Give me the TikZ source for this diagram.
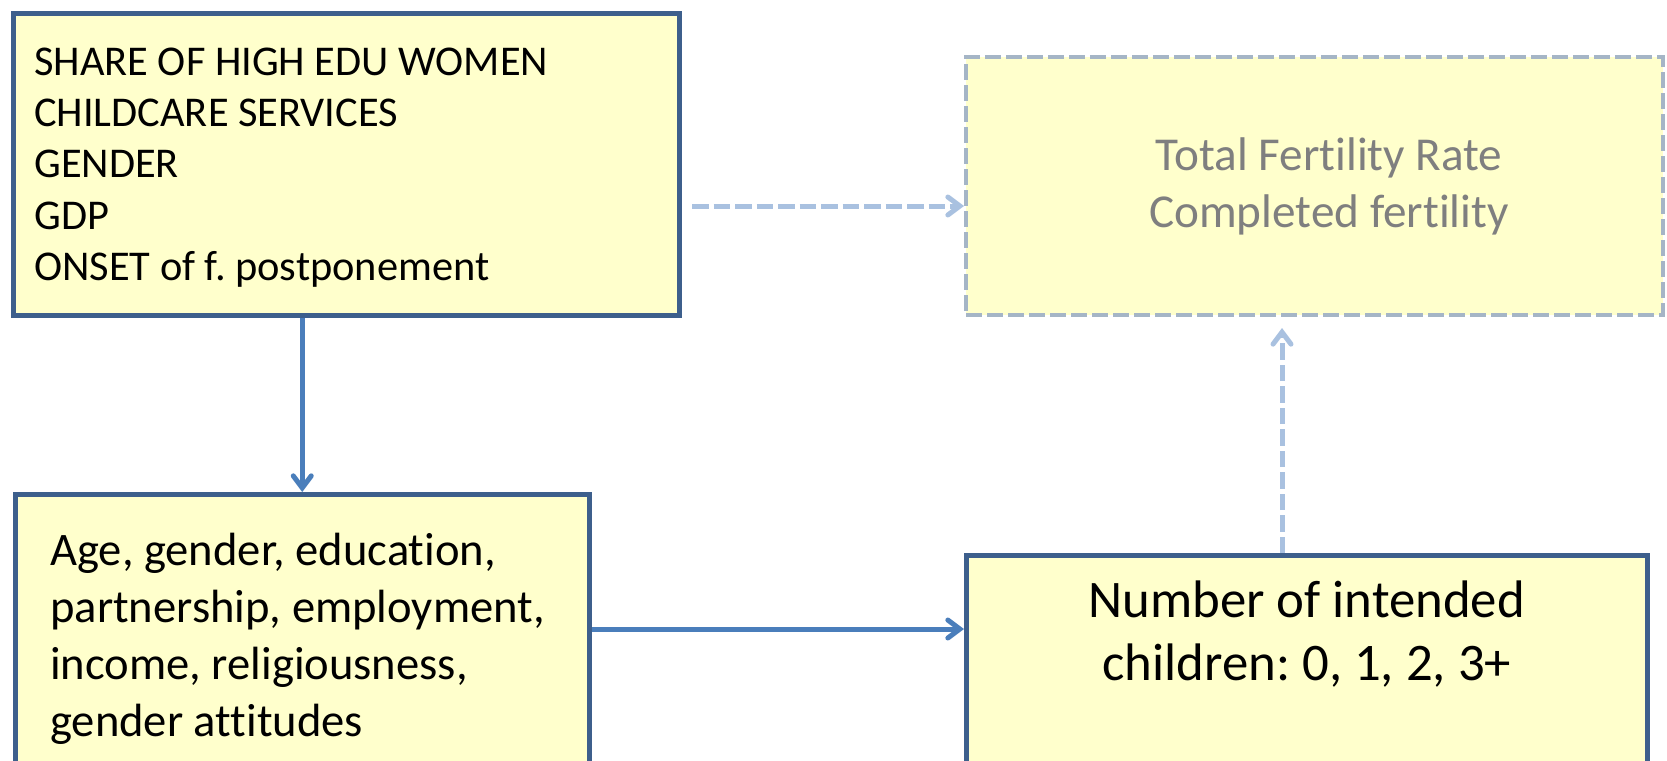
\documentclass[tikz,border=0pt]{standalone}
\usepackage{fontspec}
\setmainfont{Carlito}[Ligatures=NoCommon]
\usetikzlibrary{arrows.meta}
\definecolor{boxfill}{HTML}{FFFFCC}
\definecolor{boxline}{HTML}{3D5F8C}
\definecolor{arrowblue}{HTML}{4A7EBB}
\definecolor{lightarrow}{HTML}{A9C1E0}
\definecolor{dashline}{HTML}{A5B5C6}
\definecolor{graytext}{HTML}{7F7F7F}
\frenchspacing
\begin{document}
\begin{tikzpicture}[x=0.5pt,y=-0.5pt,
 solidbox/.style={draw=boxline,line width=2.25pt,fill=boxfill,inner sep=0pt,anchor=north west},
 dashbox/.style={draw=dashline,line width=2pt,fill=boxfill,inner sep=0pt,anchor=north west,dash pattern=on 8pt off 2.5pt},
 solidarrow/.style={draw=arrowblue,line width=2.5pt,-{Straight Barb[length=6pt,width=9pt,line cap=round]}},
 dasharrow/.style={draw=lightarrow,line width=2.5pt,dash pattern=on 8.25pt off 2.5pt,-{Straight Barb[length=6pt,width=9pt,line cap=round]}}]
\useasboundingbox (0,0) rectangle (1667,761);
\clip (0,0) rectangle (1667,761);

\node[solidbox] (macro) at (11,11) {\parbox[t][151pt][t]{333pt}{\fontsize{21.2pt}{25.65pt}\selectfont\raggedright\leftskip=10.5pt
\rule{0pt}{31pt}SHARE OF HIGH EDU WOMEN\\
CHILDCARE SERVICES\\
GENDER\\
GDP\\
ONSET of f. postponement}};

\node[dashbox] (tfr) at (964,55) {\parbox[t][129pt][t]{348.5pt}{\fontsize{23.6pt}{28.5pt}\selectfont\color{graytext}\centering\leftskip=14.5pt plus 1fil
\rule{0pt}{56.5pt}Total Fertility Rate\\
Completed fertility}};

\node[solidbox] (indiv) at (13,492) {\parbox[t][200pt][t]{287pt}{\fontsize{23.3pt}{28.5pt}\selectfont\raggedright\leftskip=17.5pt
\rule{0pt}{35.5pt}Age, gender, education,\\
partnership, employment,\\
income, religiousness,\\
gender attitudes}};

\node[solidbox] (intend) at (964,553) {\parbox[t][150pt][t]{340.5pt}{\fontsize{26.4pt}{31.5pt}\selectfont\centering
\rule{0pt}{31pt}Number of intended\\
children: 0, 1, 2, 3+}};

\coordinate (hstart) at (692,206);
\coordinate (vtip) at (1282,328);
\coordinate (hy) at (0,629);

\draw[solidarrow] (indiv.north |- macro.south) -- (indiv.north);
\draw[solidarrow] (indiv.east |- hy) -- (intend.west |- hy);
\draw[dasharrow] (hstart) -- (hstart -| tfr.west);
\draw[dasharrow] (vtip |- intend.north) -- (vtip);
\end{tikzpicture}
\end{document}
